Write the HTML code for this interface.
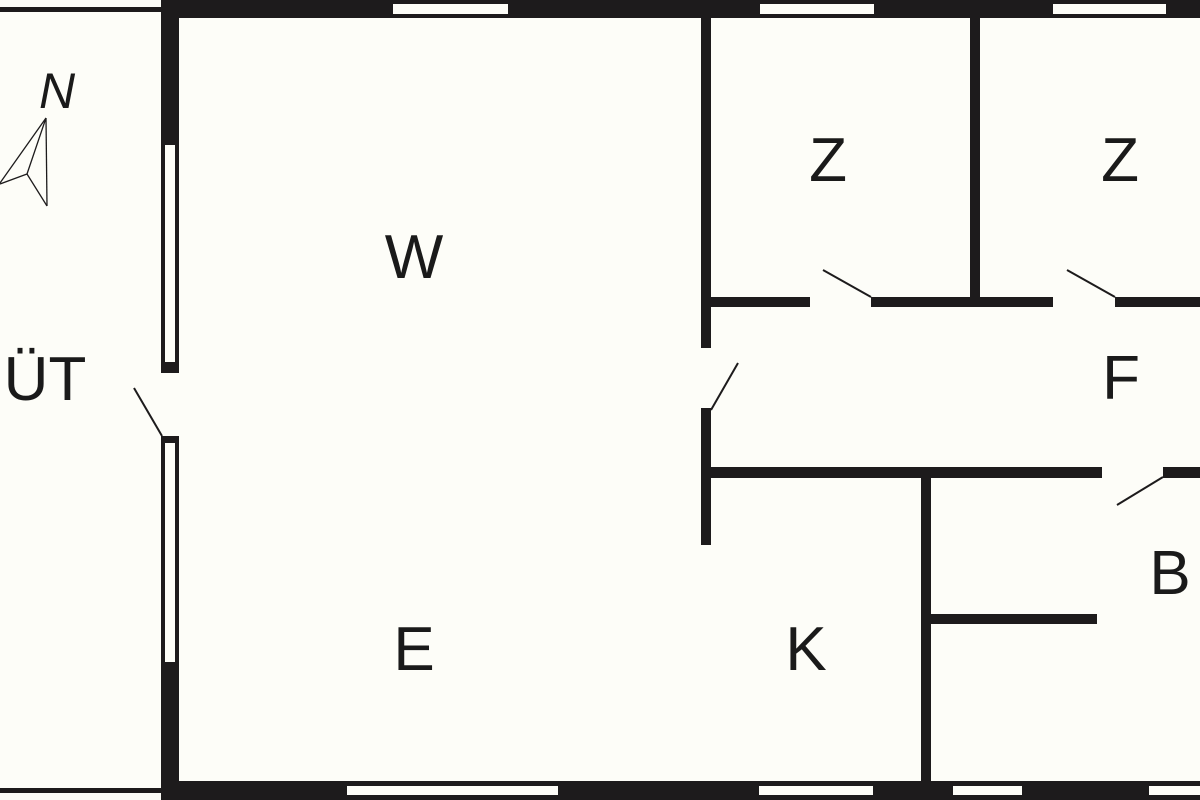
<!DOCTYPE html>
<html><head><style>
body{margin:0;background:#fdfdf8;}
svg{display:block}
text{font-family:"Liberation Sans",sans-serif;font-size:62px;fill:#1a1a1a;text-anchor:middle}
</style></head><body>
<svg width="1200" height="800" viewBox="0 0 1200 800">
<rect width="1200" height="800" fill="#fdfdf8"/>
<g fill="#1d1b1c">
<rect x="0" y="7" width="162" height="5"/>
<rect x="0" y="788" width="162" height="5"/>
<rect x="161" y="0" width="1039" height="18"/>
<rect x="161" y="0" width="18" height="373"/>
<rect x="161" y="436" width="18" height="364"/>
<rect x="161" y="781" width="1039" height="19"/>
<rect x="701" y="18" width="10" height="330"/>
<rect x="701" y="408" width="10" height="137"/>
<rect x="970" y="18" width="10" height="280"/>
<rect x="711" y="297" width="99" height="10"/>
<rect x="871" y="297" width="182" height="10"/>
<rect x="1115" y="297" width="85" height="10"/>
<rect x="711" y="467" width="391" height="11"/>
<rect x="1163" y="467" width="37" height="11"/>
<rect x="921" y="478" width="10" height="303"/>
<rect x="931" y="614" width="166" height="10"/>
</g>
<g fill="#fdfdf8">
<rect x="393" y="4" width="115" height="10"/>
<rect x="760" y="4" width="114" height="10"/>
<rect x="1053" y="4" width="113" height="10"/>
<rect x="165" y="145" width="10" height="217"/>
<rect x="165" y="443" width="10" height="219"/>
<rect x="347" y="786" width="211" height="9"/>
<rect x="759" y="786" width="114" height="9"/>
<rect x="953" y="786" width="69" height="9"/>
<rect x="1149" y="786" width="60" height="9"/>
</g>
<g stroke="#1d1b1c" stroke-width="2" fill="none">
<line x1="134" y1="388" x2="162" y2="436"/>
<line x1="823" y1="270" x2="871" y2="297"/>
<line x1="1067" y1="270" x2="1115" y2="297"/>
<line x1="711" y1="410" x2="738" y2="363"/>
<line x1="1117" y1="505" x2="1163" y2="477"/>
</g>
<g stroke="#1d1b1c" stroke-width="1.3" fill="none">
<line x1="46" y1="118" x2="47" y2="206"/>
<line x1="46" y1="118" x2="0" y2="183"/>
<line x1="46" y1="118" x2="27" y2="174"/>
<line x1="27" y1="174" x2="47" y2="206"/>
<line x1="27" y1="174" x2="0" y2="184"/>
</g>
<text x="57" y="108" style="font-size:50px;font-style:italic">N</text>
<text x="414" y="278">W</text>
<text x="828" y="181">Z</text>
<text x="1120" y="181">Z</text>
<text x="1121" y="399">F</text>
<text x="45" y="400">ÜT</text>
<text x="414" y="670">E</text>
<text x="806" y="670">K</text>
<text x="1170" y="594">B</text>
</svg>
</body></html>
